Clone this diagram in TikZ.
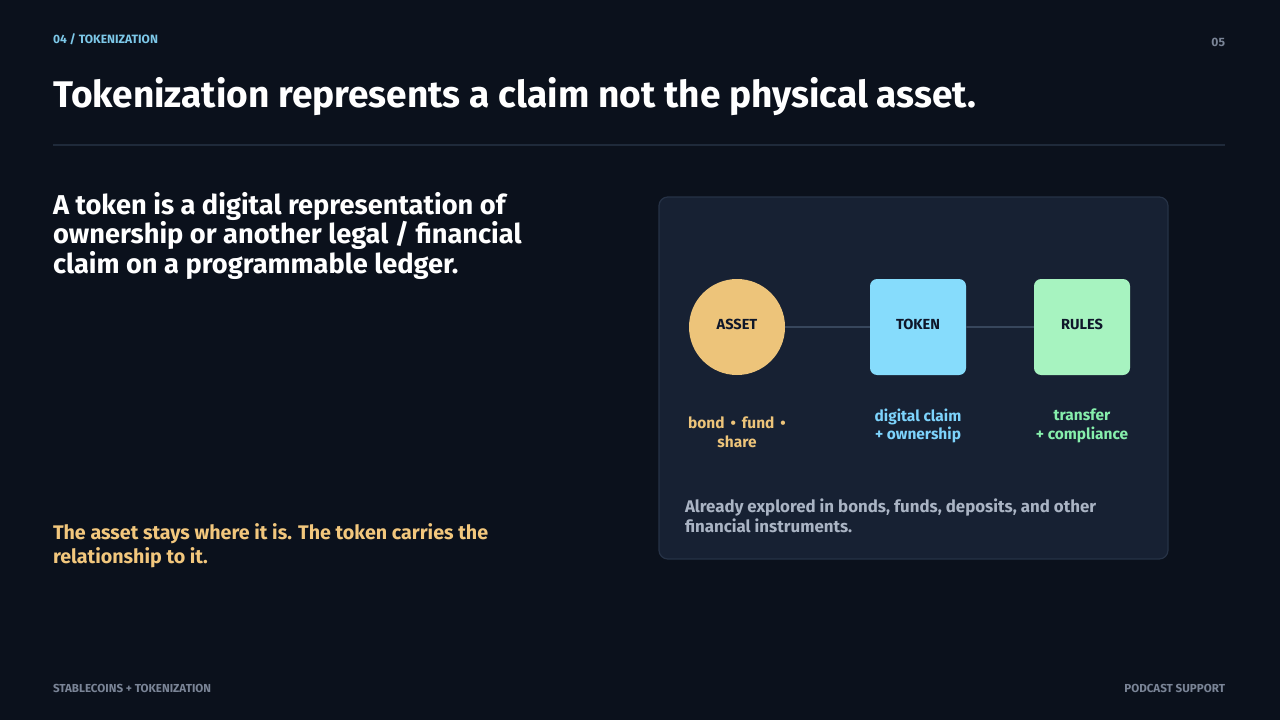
\documentclass[tikz,border=0pt]{standalone}
\usepackage{fontspec}
\setmainfont{Fira Sans}[UprightFont=* Medium, BoldFont=* Bold]
\usepackage{xcolor}
\usetikzlibrary{positioning,calc}
\definecolor{slideInk}{RGB}{11,17,28}
\definecolor{panelFill}{RGB}{23,33,51}
\definecolor{panelEdge}{RGB}{38,50,70}
\definecolor{ruleLine}{RGB}{31,42,58}
\definecolor{linkLine}{RGB}{55,70,92}
\definecolor{assetGold}{RGB}{237,196,122}
\definecolor{tokenSky}{RGB}{134,220,252}
\definecolor{rulesMint}{RGB}{167,243,192}
\definecolor{skyText}{RGB}{125,211,252}
\definecolor{mintText}{RGB}{134,239,172}
\definecolor{goldText}{RGB}{242,199,125}
\definecolor{kickerBlue}{RGB}{125,200,232}
\definecolor{footGray}{RGB}{122,132,150}
\definecolor{noteGray}{RGB}{170,180,196}
\definecolor{shapeInk}{RGB}{15,23,42}
\newcommand{\fsz}[2]{\fontsize{#1}{#2}\selectfont}
\newcommand{\dotsep}{\hspace{3.4pt}\textbullet\hspace{3.4pt}}

\begin{document}
\begin{tikzpicture}[x=0.02cm,y=-0.02cm,
  plain/.style={inner sep=0pt,outer sep=0pt},
  shapebox/.style={draw=none,minimum size=96*0.02cm,inner sep=0pt,
        font=\bfseries\fsz{8.3pt}{9pt},text=shapeInk},
  caption/.style={plain,align=center,font=\bfseries\fsz{8.8pt}{10.6pt}}]
\useasboundingbox (0,0) rectangle (1280,720);
\fill[slideInk] (0,0) rectangle (1280,720);

% header
\node[plain,anchor=base west,text=kickerBlue,font=\bfseries\fsz{6.85pt}{8pt}] (kicker) at (53,43) {04 / TOKENIZATION};
\node[plain,anchor=base east,text=footGray,font=\bfseries\fsz{6.9pt}{8pt}] (pagenum) at (1225,46) {05};
\node[plain,anchor=base west,text=white,font=\bfseries\fsz{21.1pt}{26pt}] (title) at (53,107)
  {Tokenization represents a claim not the physical asset.};
\draw[ruleLine,line width=0.6pt] (53,145) -- (1225,145);

% left column
\node[plain,anchor=north west,align=left,text=white,font=\bfseries\fsz{15.5pt}{17pt}] (lead) at (53,192)
  {A token is a digital representation of\\ownership or another legal / financial\\claim on a programmable ledger.};
\node[plain,anchor=north west,align=left,text=goldText,font=\bfseries\fsz{11.2pt}{13.6pt}] (punch) at (53,524)
  {The asset stays where it is. The token carries the\\relationship to it.};

% panel
\draw[panelEdge,fill=panelFill,line width=0.7pt,rounded corners=5pt] (659,197) rectangle (1168,559);

\foreach \nm/\lbl/\xc/\shp/\col/\txt/\cy/\cap in {
  asset/ASSET/737/circle/assetGold/assetGold/432/{bond\dotsep fund\dotsep\\share},
  token/TOKEN/918/rectangle/tokenSky/skyText/426/{digital claim\\+ ownership},
  rules/RULES/1082/rectangle/rulesMint/mintText/426/{transfer\\+ compliance}}
{
  \node[shapebox,\shp,rounded corners=4pt,fill=\col] (\nm) at (\xc,327) {\raisebox{3pt}{\lbl}};
  \node[caption,text=\txt] (\nm cap) at (\xc,\cy) {\cap};
}
\draw[linkLine,line width=1pt] (asset) -- (token);
\draw[linkLine,line width=1pt] (token) -- (rules);

\node[plain,anchor=north west,align=left,text=noteGray,font=\bfseries\fsz{9.6pt}{11.4pt}] (note) at (685,499)
  {Already explored in bonds, funds, deposits, and other\\financial instruments.};

% footer
\node[plain,anchor=base west,text=footGray,font=\bfseries\fsz{6.6pt}{7pt}] (footl) at (53,692) {STABLECOINS + TOKENIZATION};
\node[plain,anchor=base east,text=footGray,font=\bfseries\fsz{6.6pt}{7pt}] (footr) at (1225,692) {PODCAST SUPPORT};
\end{tikzpicture}
\end{document}
